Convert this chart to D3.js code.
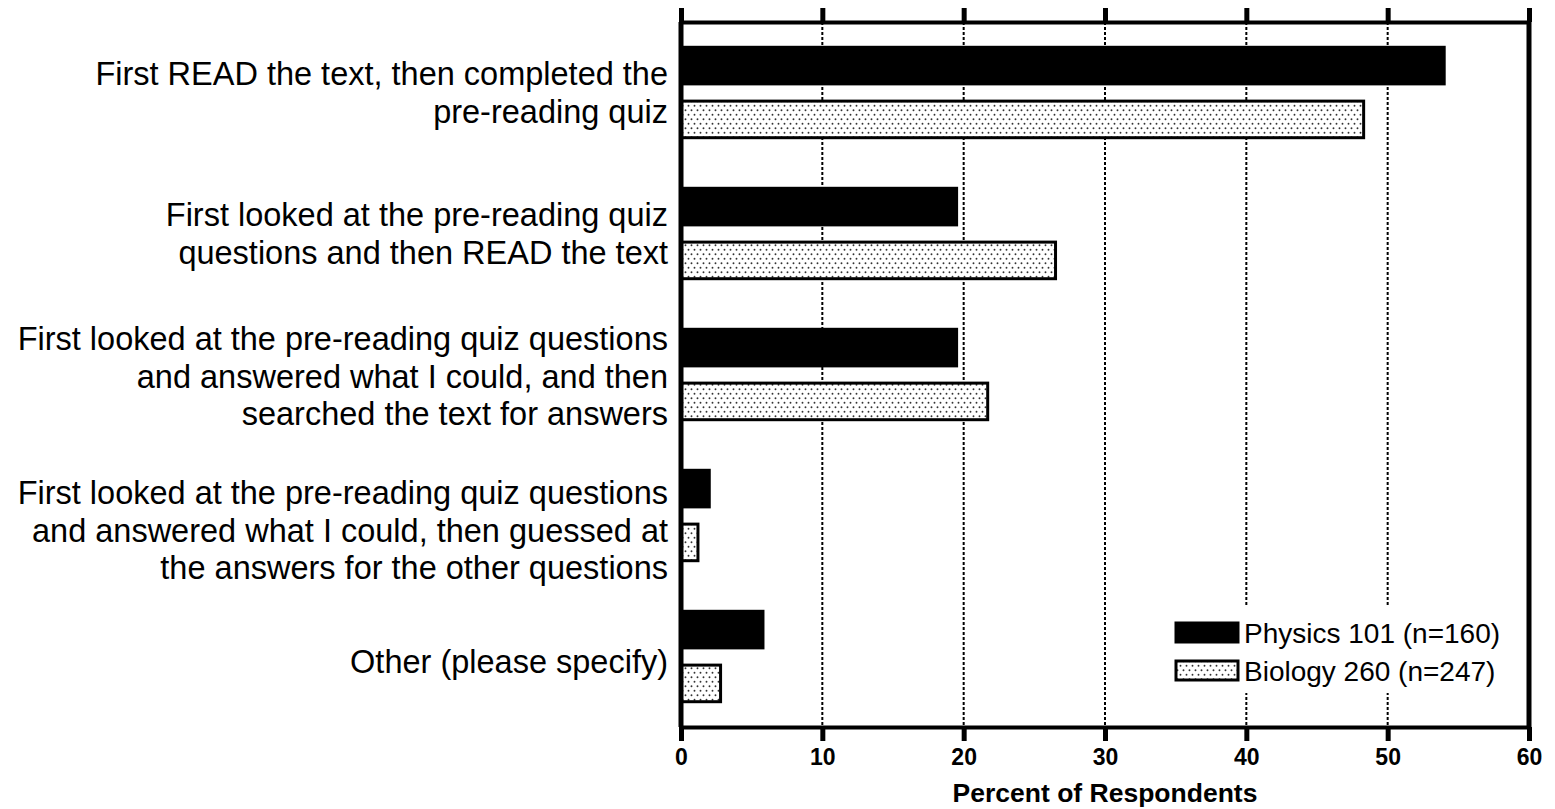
<!DOCTYPE html>
<html>
<head>
<meta charset="utf-8">
<script src="https://cdn.jsdelivr.net/npm/d3@7/dist/d3.min.js"></script>
<style>
  html, body { margin: 0; padding: 0; background: #fff; }
  svg { display: block; }
</style>
</head>
<body>
<svg id="chart" width="1555" height="809"></svg>
<script>
// ---- data ----
const categories = [
  "First READ the text, then completed the pre-reading quiz",
  "First looked at the pre-reading quiz questions and then READ the text",
  "First looked at the pre-reading quiz questions and answered what I could, and then searched the text for answers",
  "First looked at the pre-reading quiz questions and answered what I could, then guessed at the answers for the other questions",
  "Other (please specify)"
];
const labelLines = [
  ["First READ the text, then completed the", "pre-reading quiz"],
  ["First looked at the pre-reading quiz", "questions and then READ the text"],
  ["First looked at the pre-reading quiz questions", "and answered what I could, and then", "searched the text for answers"],
  ["First looked at the pre-reading quiz questions", "and answered what I could, then guessed at", "the answers for the other questions"],
  ["Other (please specify)"]
];
const seriesNames = ["Physics 101 (n=160)", "Biology 260 (n=247)"];
const physicsValues = [54.0, 19.5, 19.5, 2.0, 5.8];
const biologyValues = [48.3, 26.5, 21.7, 1.2, 2.8];
const xTicks = [0, 10, 20, 30, 40, 50, 60];
const xTitle = "Percent of Respondents";

// ---- layout ----
const svg = d3.select("#chart");
const pLeft = 681, pRight = 1529, pTop = 22, pBottom = 727;
const labelNudge = [0, 0, 2, 15, 5];   // small vertical label offsets (layout only)

const x = d3.scaleLinear().domain([0, 60]).range([pLeft, pRight]);
const y0 = d3.scaleBand().domain(categories).range([pTop, pBottom]).padding(0);
const y1 = d3.scaleBand().domain(seriesNames).range([0, y0.bandwidth()])
  .paddingInner(0.32).paddingOuter(0.47);

const font = "'Liberation Sans', Arial, Helvetica, sans-serif";

// pattern: staggered dots
const defs = svg.append("defs");
const pat = defs.append("pattern").attr("id", "dots")
  .attr("patternUnits", "userSpaceOnUse").attr("width", 6).attr("height", 9);
pat.append("rect").attr("width", 6).attr("height", 9).attr("fill", "#fff");
pat.append("circle").attr("cx", 1.5).attr("cy", 2.2).attr("r", 0.95).attr("fill", "#333");
pat.append("circle").attr("cx", 4.5).attr("cy", 6.7).attr("r", 0.95).attr("fill", "#333");

const fills = ["#000", "url(#dots)"];

// gridlines
svg.append("g").selectAll("line").data(xTicks.filter(t => t > 0 && t < 60)).join("line")
  .attr("x1", d => x(d)).attr("x2", d => x(d))
  .attr("y1", pTop).attr("y2", pBottom)
  .attr("stroke", "#000").attr("stroke-width", 2).attr("stroke-dasharray", "3,2");

// bars
const rows = categories.map((c, i) => ({ c, vals: [physicsValues[i], biologyValues[i]] }));
const g = svg.append("g");
rows.forEach(r => {
  r.vals.forEach((v, j) => {
    g.append("rect")
      .attr("x", x(0))
      .attr("y", y0(r.c) + y1(seriesNames[j]))
      .attr("width", x(v) - x(0))
      .attr("height", y1.bandwidth())
      .attr("fill", fills[j])
      .attr("stroke", "#000")
      .attr("stroke-width", 3);
  });
});

// legend (white box hides gridlines)
const lgX = x(60) - 353, lgY = 623;
svg.append("rect").attr("x", lgX - 6).attr("y", lgY - 16).attr("width", 338).attr("height", 86)
  .attr("fill", "#fff");
const lg = svg.append("g").attr("transform", `translate(${lgX},${lgY})`);
seriesNames.forEach((s, j) => {
  lg.append("rect").attr("x", 0).attr("y", j * 38).attr("width", 62).attr("height", 19)
    .attr("fill", fills[j]).attr("stroke", "#000").attr("stroke-width", 3);
  lg.append("text").attr("x", 68).attr("y", j * 38 + 10).attr("dy", "0.35em")
    .attr("font-family", font).attr("font-size", 28).text(s);
});

// axes
const axB = svg.append("g").attr("transform", `translate(0,${pBottom})`)
  .call(d3.axisBottom(x).tickValues(xTicks).tickSize(14).tickSizeOuter(0).tickPadding(8));
const axT = svg.append("g").attr("transform", `translate(0,${pTop})`)
  .call(d3.axisTop(x).tickValues(xTicks).tickSize(14).tickSizeOuter(0).tickFormat(""));
[axB, axT].forEach(a => {
  a.select(".domain").attr("stroke", "#000").attr("stroke-width", 4);
  a.selectAll(".tick line").attr("stroke", "#000").attr("stroke-width", 5);
});
axB.selectAll(".tick text")
  .attr("font-family", font).attr("font-weight", "bold").attr("font-size", 23).attr("fill", "#000");

// frame verticals
svg.append("g").selectAll("line").data([0, 60]).join("line")
  .attr("x1", d => x(d)).attr("x2", d => x(d))
  .attr("y1", pTop).attr("y2", pBottom)
  .attr("stroke", "#000").attr("stroke-width", 5);

// x title
svg.append("text").attr("x", (pLeft + pRight) / 2).attr("y", 802)
  .attr("text-anchor", "middle").attr("font-family", font).attr("font-weight", "bold")
  .attr("font-size", 26.5).text(xTitle);

// category labels
const lineH = 37.5;
categories.forEach((c, i) => {
  const lines = labelLines[i];
  const cy = y0(c) + y0.bandwidth() / 2 + labelNudge[i];
  const t = svg.append("text").attr("text-anchor", "end")
    .attr("font-family", font).attr("font-size", 32.5).attr("fill", "#000");
  lines.forEach((ln, k) => {
    t.append("tspan").attr("x", pLeft - 13)
      .attr("y", cy + (k - (lines.length - 1) / 2) * lineH)
      .attr("dy", "0.35em").text(ln);
  });
});
</script>
</body>
</html>
